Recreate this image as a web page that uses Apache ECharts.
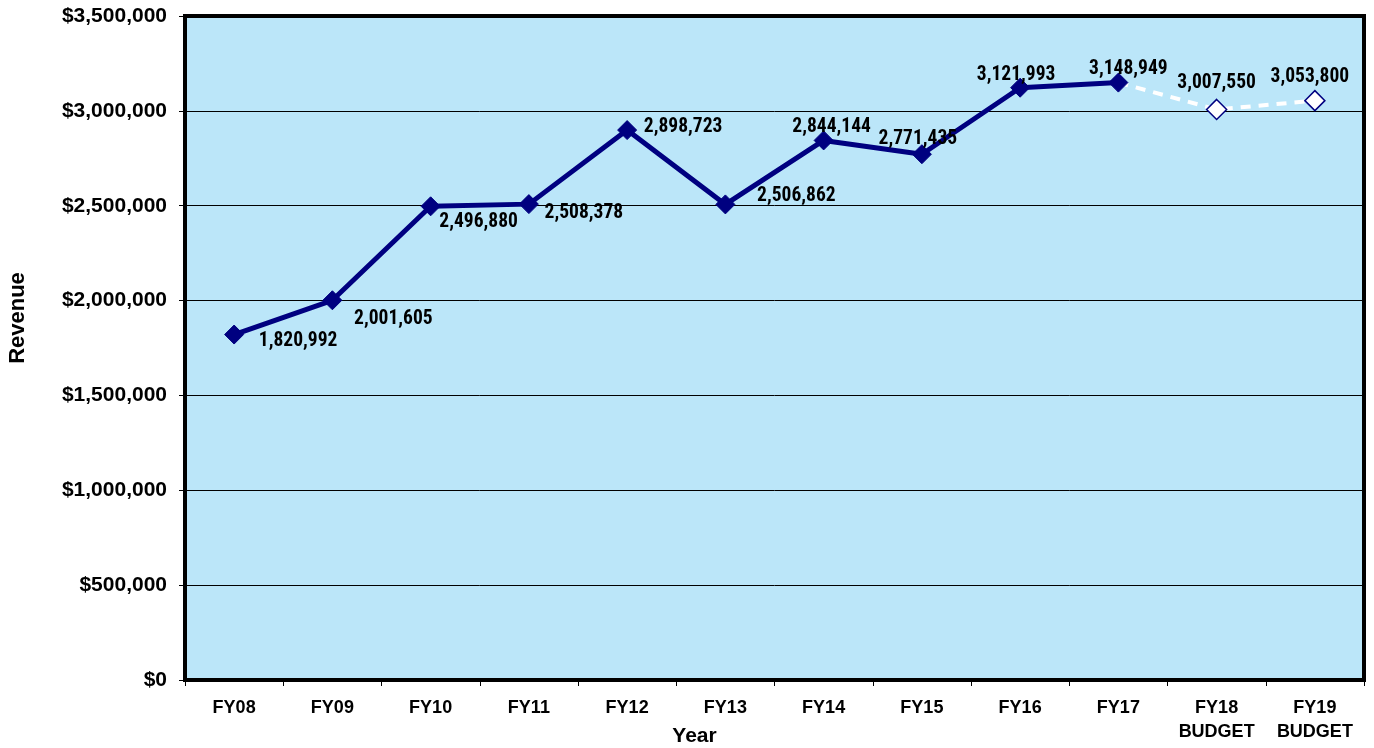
<!DOCTYPE html>
<html>
<head>
<meta charset="utf-8">
<script src="https://cdn.jsdelivr.net/npm/echarts@6/dist/echarts.min.js"></script>
<style>
  html, body { margin: 0; padding: 0; background: #fff; }
  #chart { width: 1374px; height: 748px; }
</style>
</head>
<body>
<div id="chart"></div>
<script>
// Fiscal years on the category axis
const years = ['FY08', 'FY09', 'FY10', 'FY11', 'FY12', 'FY13', 'FY14', 'FY15', 'FY16', 'FY17', 'FY18\nBUDGET', 'FY19\nBUDGET'];
// Actual revenue, FY08 to FY17
const actualRevenue = [1820992, 2001605, 2496880, 2508378, 2898723, 2506862, 2844144, 2771435, 3121993, 3148949];
// Budgeted revenue, FY18 and FY19
const budgetRevenue = [3007550, 3053800];
// Label offsets from each point (px), keeps the value text clear of the line
const labelOffsets = [[64, 7], [61, 19], [48, 16], [55, 9], [56, -3], [71, -8], [8, -13], [-4, -15], [-4, -13], [10, -13], [0, -26], [-5, -24]];

const NAVY = '#000080';
const fmt = v => v.toLocaleString('en-US');
const labelFont = {
  fontFamily: '"Liberation Sans Narrow", "Arial Narrow", "Roboto Condensed", "DejaVu Sans Condensed", "Liberation Sans", sans-serif',
  fontWeight: 'bold', fontSize: 19.5, color: '#000'
};

const actualData = years.map((y, i) => {
  if (i >= actualRevenue.length) return '-';
  return {
    value: actualRevenue[i],
    label: { show: true, position: 'inside', offset: labelOffsets[i], formatter: p => fmt(p.value), ...labelFont }
  };
});

const budgetData = years.map((y, i) => {
  const last = actualRevenue.length - 1;
  if (i < last) return '-';
  if (i === last) return { value: actualRevenue[last], symbol: 'none' };
  const v = budgetRevenue[i - actualRevenue.length];
  return {
    value: v,
    label: { show: true, position: 'inside', offset: labelOffsets[i], formatter: p => fmt(p.value), ...labelFont }
  };
});

const chart = echarts.init(document.getElementById('chart'));
chart.setOption({
  animation: false,
  textStyle: { fontFamily: '"Liberation Sans", Arial, sans-serif' },
  grid: {
    left: 185, top: 16, right: 10, bottom: 68,
    outerBoundsMode: 'none',
    containLabel: false,
    show: true, backgroundColor: '#BBE6F9', borderColor: '#000', borderWidth: 4
  },
  xAxis: {
    type: 'category',
    data: years,
    boundaryGap: true,
    name: 'Year',
    nameLocation: 'middle',
    nameGap: 46,
    nameMoveOverlap: false,
    nameTextStyle: { fontWeight: 'bold', fontSize: 21, color: '#000', padding: [0, 160, 0, 0] },
    axisLine: { show: true, lineStyle: { color: '#000', width: 1 } },
    axisTick: { show: true, length: 6, lineStyle: { color: '#000' } },
    axisLabel: { interval: 0, fontWeight: 'bold', fontSize: 18, color: '#000', margin: 16, lineHeight: 24 }
  },
  yAxis: {
    type: 'value',
    min: 0, max: 3500000, interval: 500000,
    name: 'Revenue',
    nameLocation: 'middle',
    nameRotate: 90,
    nameGap: 156,
    nameMoveOverlap: false,
    nameTextStyle: { fontWeight: 'bold', fontSize: 22, color: '#000', padding: [0, 0, 0, 60] },
    axisLine: { show: true, lineStyle: { color: '#000', width: 1 } },
    axisTick: { show: true, length: 6, lineStyle: { color: '#000' } },
    axisLabel: { fontWeight: 'bold', fontSize: 21, color: '#000', margin: 18, formatter: v => '$' + fmt(v) },
    splitLine: { show: true, lineStyle: { color: '#000', width: 1 } }
  },
  series: [
    {
      name: 'Actual',
      type: 'line',
      data: actualData,
      symbol: 'diamond',
      symbolSize: 19,
      lineStyle: { color: NAVY, width: 5 },
      itemStyle: { color: NAVY, borderColor: NAVY },
      z: 3
    },
    {
      name: 'Budget',
      type: 'line',
      data: budgetData,
      symbol: 'diamond',
      symbolSize: 20,
      lineStyle: { color: '#fff', width: 4, type: [10, 8] },
      itemStyle: { color: '#fff', borderColor: NAVY, borderWidth: 1.5 },
      z: 2
    }
  ]
});
</script>
</body>
</html>
